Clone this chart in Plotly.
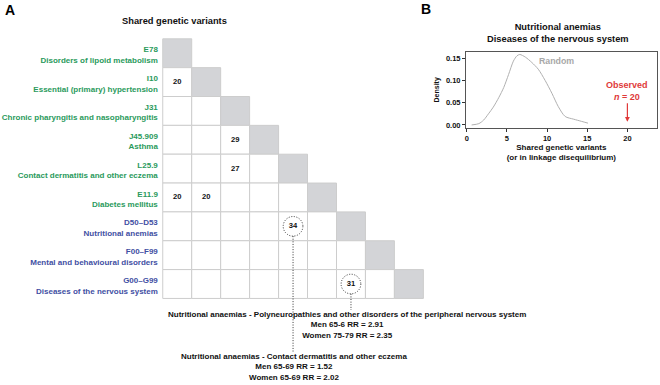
import plotly.graph_objects as go

# ---------------- data ----------------
row_codes = ["E78", "I10", "J31", "J45.909", "L25.9", "E11.9", "D50\u2013D53", "F00\u2013F99", "G00\u2013G99"]
row_names = ["Disorders of lipoid metabolism", "Essential (primary) hypertension",
             "Chronic pharyngitis and nasopharyngitis", "Asthma",
             "Contact dermatitis and other eczema", "Diabetes mellitus",
             "Nutritional anemias", "Mental and behavioural disorders",
             "Diseases of the nervous system"]
row_group = ["green", "green", "green", "green", "green", "green", "blue", "blue", "blue"]

cell_rows = [1, 3, 4, 5, 5, 6, 8]
cell_cols = [0, 2, 2, 0, 1, 4, 6]
cell_vals = [20, 29, 27, 20, 20, 34, 31]
circled = [False, False, False, False, False, True, True]

note_texts = [
    "Nutritional anaemias - Polyneuropathies and other disorders of the peripheral nervous system<br>Men 65-6 RR = 2.91<br>Women 75-79 RR = 2.35",
    "Nutritional anaemias - Contact dermatitis and other eczema<br>Men 65-69 RR = 1.52<br>Women 65-69 RR = 2.02",
]
note_rows = [8, 6]
note_cols = [6, 4]

dens_x = [0.6, 1.5, 2.1, 2.7, 3.3, 4.0, 4.6, 5.2, 5.8, 6.25, 6.6, 7.3, 8.1, 8.9,
          9.75, 10.6, 11.4, 12.25, 13.3, 14.3, 15.1]
dens_y = [0.0, 0.003, 0.011, 0.025, 0.040, 0.062, 0.084, 0.113, 0.143, 0.155, 0.158,
          0.152, 0.140, 0.125, 0.100, 0.071, 0.041, 0.019, 0.013, 0.008, 0.004]
observed_n = 20

x_ticks = [0, 5, 10, 15, 20]
y_ticks = [0.00, 0.05, 0.10, 0.15]

# ---------------- style ----------------
FONT = "Liberation Sans, Arial, Helvetica, sans-serif"
GREEN = "#2a9a5c"
BLUE = "#3f4fa3"
GRID = "#cdcdcd"
DIAG = "#d3d4d7"
RED = "#e03a3a"
GREYTXT = "#a8a8a8"
DOT = "1px,1.6px"
colmap = {"green": GREEN, "blue": BLUE}

W, H = 660, 385
fig = go.Figure()

# -------- Panel A (x2 / y2), 1 unit = 29 px ---------
cell = 29.0
gx0, gy0 = 162.0, 39.0
xa_dom = [0, 0.65]
xa_px = [xa_dom[0] * W, xa_dom[1] * W]
xa_range = [(xa_px[0] - gx0) / cell, (xa_px[1] - gx0) / cell]
ya_range = [(H - gy0) / cell, (0 - gy0) / cell]

n = len(row_codes)
shapes = []
for i in range(n):
    for j in range(i + 1):
        shapes.append(dict(type="rect", xref="x2", yref="y2", x0=j, x1=j + 1, y0=i, y1=i + 1,
                           fillcolor=DIAG if i == j else "white",
                           line=dict(color=GRID, width=1), layer="below"))

r = 0.34
for rr, cc, circ in zip(cell_rows, cell_cols, circled):
    if circ:
        shapes.append(dict(type="circle", xref="x2", yref="y2",
                           x0=cc + 0.5 - r, x1=cc + 0.5 + r, y0=rr + 0.5 - r, y1=rr + 0.5 + r,
                           line=dict(color="#333333", width=1, dash=DOT)))

line_ends = [9.40, 10.84]
for rr, cc, ye in zip(note_rows, note_cols, line_ends):
    shapes.append(dict(type="line", xref="x2", yref="y2", x0=cc + 0.5, x1=cc + 0.5,
                       y0=rr + 0.5 + r, y1=ye, line=dict(color="#333333", width=1, dash=DOT)))

fig.add_trace(go.Scatter(
    x=[c + 0.5 for c in cell_cols], y=[rw + 0.5 for rw in cell_rows],
    text=[str(v) for v in cell_vals], mode="text",
    textfont=dict(family=FONT, size=7.6, color="#111111", weight="bold"),
    xaxis="x2", yaxis="y2", showlegend=False, hoverinfo="skip"))

fig.add_trace(go.Scatter(
    x=[-0.17] * n, y=[i + 0.58 for i in range(n)],
    text=[f"{c}<br>{nm}" for c, nm in zip(row_codes, row_names)],
    mode="text", textposition="middle left",
    textfont=dict(family=FONT, size=8, color=[colmap[g] for g in row_group], weight="bold"),
    xaxis="x2", yaxis="y2", showlegend=False, hoverinfo="skip"))

annotations = []
note_pos = [(6.38, 9.92), (4.54, 11.38)]
for txt, (ux, vy) in zip(note_texts, note_pos):
    annotations.append(dict(xref="x2", yref="y2", x=ux, y=vy, text=txt, showarrow=False,
                            xanchor="center", yanchor="middle", align="center",
                            font=dict(family=FONT, size=8, color="#111111", weight="bold")))

# -------- Panel B (x / y) ---------
fig.add_trace(go.Scatter(
    x=dens_x, y=dens_y, mode="lines", line=dict(color="#b0b0b0", width=1, shape="spline", smoothing=0.8),
    xaxis="x", yaxis="y", showlegend=False, hoverinfo="skip"))

annotations.append(dict(xref="x", yref="y", x=11.2, y=0.144, text="Random", showarrow=False,
                        font=dict(family=FONT, size=8.8, color=GREYTXT, weight="bold")))
annotations.append(dict(xref="x", yref="y", x=observed_n, y=0.007,
                        text=f"Observed<br><i>n</i> = {observed_n}", showarrow=True,
                        ax=0, ay=-31, arrowhead=2, arrowsize=0.8, arrowwidth=1.2,
                        arrowcolor=RED, standoff=0, startstandoff=0,
                        font=dict(family=FONT, size=9, color=RED, weight="bold")))

# panel labels and titles
annotations += [
    dict(xref="paper", yref="paper", x=9 / W, y=1 - 10 / H, text="A", showarrow=False,
         xanchor="center", yanchor="middle", font=dict(family=FONT, size=14, color="#000", weight="bold")),
    dict(xref="paper", yref="paper", x=426 / W, y=1 - 9 / H, text="B", showarrow=False,
         xanchor="center", yanchor="middle", font=dict(family=FONT, size=14, color="#000", weight="bold")),
    dict(xref="paper", yref="paper", x=174 / W, y=1 - 20.7 / H, text="Shared genetic variants",
         showarrow=False, xanchor="center", yanchor="middle",
         font=dict(family=FONT, size=9.3, color="#111", weight="bold")),
    dict(xref="paper", yref="paper", x=558 / W, y=1 - 33.3 / H,
         text="Nutritional anemias<br>Diseases of the nervous system",
         showarrow=False, xanchor="center", yanchor="middle",
         font=dict(family=FONT, size=9.3, color="#111", weight="bold")),
]

tickfont = dict(family=FONT, size=7.5, color="#111", weight="bold")
fig.update_layout(
    width=W, height=H, margin=dict(l=0, r=0, t=0, b=0),
    paper_bgcolor="white", plot_bgcolor="white",
    shapes=shapes, annotations=annotations,
    xaxis=dict(domain=[465.7 / W, 656.7 / W], anchor="y", range=[-0.1, 23.65],
               tickvals=x_ticks, ticks="outside", ticklen=3, tickcolor="#333", tickwidth=1,
               showline=True, linecolor="#555", linewidth=1, mirror=True,
               showgrid=False, zeroline=False, tickfont=tickfont,
               title=dict(text="Shared genetic variants<br>(or in linkage disequilibrium)",
                          font=dict(family=FONT, size=8, color="#111", weight="bold"), standoff=2)),
    yaxis=dict(domain=[1 - 128.3 / H, 1 - 52.3 / H], anchor="x", range=[-0.006, 0.1635],
               tickvals=y_ticks, tickformat=".2f", ticks="outside", ticklen=3, tickcolor="#333",
               tickwidth=1, showline=True, linecolor="#555", linewidth=1, mirror=True,
               showgrid=False, zeroline=False, tickfont=tickfont,
               title=dict(text="Density", font=dict(family=FONT, size=7, color="#111", weight="bold"),
                          standoff=5)),
    xaxis2=dict(domain=xa_dom, anchor="y2", range=xa_range, visible=False, fixedrange=True),
    yaxis2=dict(domain=[0, 1], anchor="x2", range=ya_range, visible=False, fixedrange=True),
)

fig.write_html("out.html", config={"displayModeBar": False},
               post_script="document.body.style.margin='0';document.body.style.padding='0';")
